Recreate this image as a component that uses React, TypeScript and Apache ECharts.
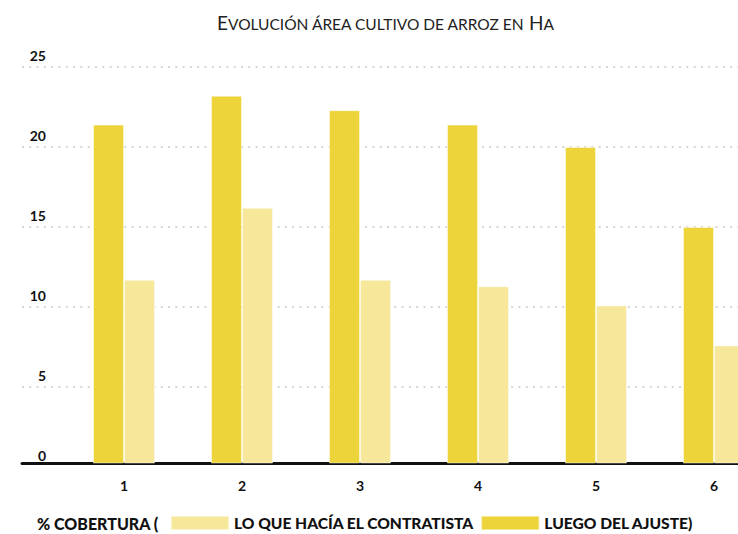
import React, { useEffect, useRef } from "react";
import * as echarts from "echarts";

const categories = ["1", "2", "3", "4", "5", "6"];
const luegoDelAjuste = [21.4, 23.2, 22.3, 21.4, 20.0, 15.0];
const loQueHacia = [11.7, 16.2, 11.7, 11.3, 10.1, 7.6];
const yTicks = { min: 0, max: 25, interval: 5 };

const DARK = "#ecd43a";
const LIGHT = "#f6e79b";
const FONT = "Lato";

export default function App() {
  const ref = useRef<HTMLDivElement>(null);
  useEffect(() => {
    if (!ref.current) return;
    document.body.style.margin = "0";
    const chart = echarts.init(ref.current, null, { renderer: "svg" });
    chart.setOption({
      animation: false,
      backgroundColor: "#ffffff",
      title: {
        text: "{b|E}{s|VOLUCIÓN ÁREA CULTIVO DE ARROZ EN }{b|H}{s|A}",
        left: 217,
        top: 10,
        padding: 0,
        textStyle: {
          rich: {
            b: { fontFamily: FONT, fontSize: 19, color: "#222", fontWeight: "normal", verticalAlign: "bottom", lineHeight: 22 },
            s: { fontFamily: FONT, fontSize: 15.5, color: "#222", fontWeight: "normal", verticalAlign: "bottom", lineHeight: 22 },
          },
        },
      },
      legend: {
        data: ["Lo que hacía el contratista", "Luego del ajuste"],
        left: 170,
        top: 515,
        padding: 0,
        itemWidth: 58,
        itemHeight: 14,
        itemGap: 6,
        icon: "rect",
        formatter: (name: string) =>
          name.toUpperCase() + (name === "Luego del ajuste" ? ")" : ""),
        textStyle: { fontFamily: FONT, fontSize: 15.6, lineHeight: 16, fontWeight: 900, color: "#111" },
      },
      graphic: [
        {
          type: "text",
          left: 37,
          top: 515,
          style: {
            text: "% COBERTURA (",
            fontFamily: FONT,
            fontSize: 16,
            lineHeight: 16,
            fontWeight: 900,
            fill: "#111",
          },
        },
      ],
      grid: [
        { left: 22, right: 0, top: 67, bottom: 67, containLabel: false, outerBoundsMode: "none" },
        { left: 65, width: 708, top: 67, bottom: 71, containLabel: false, outerBoundsMode: "none" },
      ],
      xAxis: [
        {
          gridIndex: 0,
          type: "value",
          min: 0,
          max: 1,
          offset: -4,
          axisLine: { show: true, onZero: false, lineStyle: { color: "#111", width: 3 } },
          axisTick: { show: false },
          axisLabel: { show: false },
          splitLine: { show: false },
        },
        {
          gridIndex: 1,
          type: "category",
          data: categories,
          axisLine: { show: false },
          axisTick: { show: false },
          axisLabel: {
            margin: 15,
            fontFamily: FONT,
            fontSize: 14,
            fontWeight: "bold",
            color: "#111",
          },
        },
      ],
      yAxis: [
        {
          gridIndex: 0,
          type: "value",
          min: yTicks.min,
          max: yTicks.max,
          interval: yTicks.interval,
          axisLine: { show: false },
          axisTick: { show: false },
          axisLabel: {
            inside: true,
            margin: 24,
            align: "right",
            verticalAlign: "bottom",
            padding: [0, 0, 5, 0],
            fontFamily: FONT,
            fontSize: 14,
            fontWeight: "bold",
            color: "#111",
          },
          splitLine: {
            show: true,
            showMinLine: false,
            lineStyle: { color: "#c8c8c8", width: 1.5, type: [2, 5.3] },
          },
        },
        {
          gridIndex: 1,
          type: "value",
          min: 0.25,
          max: 25,
          show: false,
          splitLine: { show: false },
        },
      ],
      series: [
        {
          name: "Luego del ajuste",
          type: "bar",
          xAxisIndex: 1,
          yAxisIndex: 1,
          data: luegoDelAjuste,
          barWidth: 31,
          barGap: "0%",
          clip: true,
          itemStyle: { color: DARK, borderColor: "rgba(255,255,255,0.45)", borderWidth: 1 },
        },
        {
          name: "Lo que hacía el contratista",
          type: "bar",
          xAxisIndex: 1,
          yAxisIndex: 1,
          data: loQueHacia,
          barWidth: 31,
          barGap: "0%",
          clip: true,
          itemStyle: { color: LIGHT, borderColor: "rgba(255,255,255,0.45)", borderWidth: 1 },
        },
      ],
    });
    return () => chart.dispose();
  }, []);
  return (
    <div
      ref={ref}
      style={{ width: 738, height: 534, position: "fixed", left: 0, top: 0 }}
    />
  );
}
